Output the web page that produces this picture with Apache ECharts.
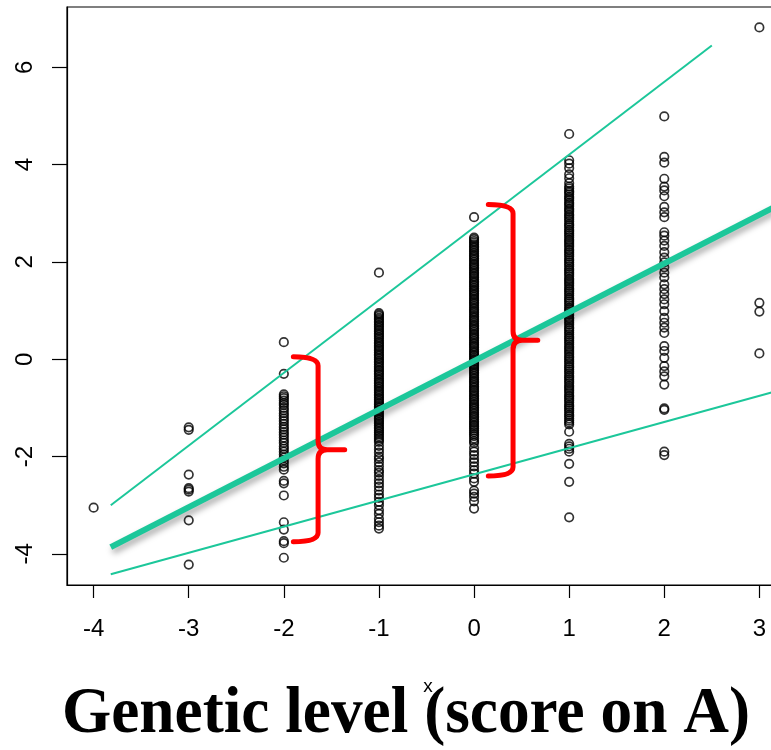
<!DOCTYPE html>
<html>
<head>
<meta charset="utf-8">
<script src="https://cdn.jsdelivr.net/npm/echarts@6/dist/echarts.min.js"></script>
<style>
  html, body { margin: 0; padding: 0; background: #fff; overflow: hidden; }
  #chart { width: 800px; height: 750px; }
</style>
</head>
<body>
<div id="chart"></div>
<script>
// tick labels
const xTicks = [-4, -3, -2, -1, 0, 1, 2, 3]
const yTicks = [-4, -2, 0, 2, 4, 6]

// phenotype values
const atNeg4 = [-3.05]
const atNeg3 = [-1.40, -1.45, -2.37, -2.65, -2.68, -2.72, -3.31, -4.22]
const atNeg2 = [0.35, -0.30, -0.72, -0.76, -0.80, -0.85, -0.90, -0.94, -1.00, -1.05, -1.11, -1.16, -1.22, -1.27,
  -1.33, -1.39, -1.44, -1.50, -1.55, -1.61, -1.67, -1.72, -1.79, -1.84, -1.90, -1.96, -2.02, -2.08, -2.14,
  -2.21, -2.27, -2.50, -2.55, -2.80, -3.35, -3.50, -3.74, -3.78, -4.08]
const atNeg1 = [1.78, 0.95, 0.92, 0.89, 0.85, 0.82, 0.78, 0.75, 0.71, 0.68, 0.64, 0.60, 0.57, 0.53, 0.50, 0.46,
  0.43, 0.39, 0.35, 0.32, 0.28, 0.25, 0.21, 0.18, 0.14, 0.10, 0.07, 0.03, 0.00, -0.04, -0.07, -0.11, -0.15,
  -0.18, -0.22, -0.25, -0.29, -0.32, -0.36, -0.40, -0.43, -0.47, -0.50, -0.54, -0.57, -0.61, -0.65, -0.68,
  -0.72, -0.75, -0.79, -0.82, -0.86, -0.90, -0.93, -0.97, -1.00, -1.04, -1.07, -1.11, -1.15, -1.18, -1.22,
  -1.25, -1.29, -1.32, -1.36, -1.40, -1.43, -1.47, -1.50, -1.54, -1.58, -1.62, -1.66, -1.70, -1.78, -1.85,
  -1.92, -2.00, -2.05, -2.12, -2.20, -2.28, -2.33, -2.40, -2.48, -2.55, -2.62, -2.70, -2.78, -2.85, -2.93,
  -3.00, -3.10, -3.18, -3.28, -3.35, -3.42, -3.48]
const atZero = [2.92, 2.50, 2.47, 2.43, 2.40, 2.36, 2.32, 2.29, 2.25, 2.22, 2.18, 2.14, 2.11, 2.07, 2.04, 2.00,
  1.96, 1.93, 1.89, 1.86, 1.82, 1.78, 1.75, 1.71, 1.68, 1.64, 1.60, 1.57, 1.53, 1.50, 1.46, 1.42, 1.39, 1.35,
  1.32, 1.28, 1.24, 1.21, 1.17, 1.14, 1.10, 1.06, 1.03, 0.99, 0.96, 0.92, 0.88, 0.85, 0.81, 0.78, 0.74, 0.70,
  0.67, 0.63, 0.60, 0.56, 0.52, 0.49, 0.45, 0.42, 0.38, 0.34, 0.31, 0.27, 0.24, 0.20, 0.16, 0.13, 0.09, 0.06,
  0.02, -0.02, -0.05, -0.09, -0.12, -0.16, -0.20, -0.23, -0.27, -0.30, -0.34, -0.38, -0.41, -0.45, -0.48,
  -0.52, -0.56, -0.59, -0.63, -0.66, -0.70, -0.74, -0.77, -0.81, -0.84, -0.88, -0.92, -0.95, -0.99, -1.02,
  -1.06, -1.10, -1.13, -1.17, -1.20, -1.24, -1.28, -1.31, -1.35, -1.38, -1.42, -1.46, -1.50, -1.54, -1.58,
  -1.63, -1.68, -1.72, -1.82, -1.90, -1.97, -2.05, -2.12, -2.20, -2.28, -2.35, -2.45, -2.52, -2.70, -2.76,
  -2.83, -2.92, -3.07]
const atPos1 = [4.63, 4.09, 4.02, 3.93, 3.80, 3.72, 3.62, 3.55, 3.51, 3.46, 3.43, 3.39, 3.34, 3.31, 3.27, 3.22,
  3.19, 3.15, 3.10, 3.07, 3.03, 2.98, 2.95, 2.91, 2.87, 2.83, 2.78, 2.75, 2.71, 2.66, 2.63, 2.59, 2.55, 2.51,
  2.46, 2.43, 2.39, 2.35, 2.31, 2.26, 2.23, 2.19, 2.15, 2.11, 2.06, 2.03, 1.99, 1.95, 1.91, 1.86, 1.83, 1.79,
  1.75, 1.71, 1.66, 1.63, 1.59, 1.55, 1.51, 1.46, 1.43, 1.39, 1.35, 1.31, 1.26, 1.23, 1.19, 1.15, 1.11, 1.06,
  1.03, 0.99, 0.95, 0.91, 0.86, 0.83, 0.79, 0.75, 0.71, 0.66, 0.63, 0.59, 0.55, 0.51, 0.46, 0.43, 0.39, 0.35,
  0.31, 0.26, 0.23, 0.19, 0.15, 0.11, 0.06, 0.03, -0.01, -0.05, -0.09, -0.14, -0.17, -0.21, -0.25, -0.29,
  -0.34, -0.37, -0.41, -0.45, -0.49, -0.54, -0.57, -0.61, -0.65, -0.69, -0.74, -0.77, -0.81, -0.85, -0.89,
  -0.94, -0.97, -1.01, -1.05, -1.09, -1.14, -1.17, -1.22, -1.26, -1.30, -1.34, -1.49, -1.74, -1.79, -1.84,
  -1.90, -2.15, -2.52, -3.25]
const atPos2 = [4.99, 4.16, 4.04, 3.71, 3.55, 3.47, 3.35, 3.13, 3.02, 2.92, 2.61, 2.54, 2.44, 2.33, 2.20, 2.09,
  1.99, 1.89, 1.78, 1.68, 1.54, 1.44, 1.34, 1.23, 1.13, 0.99, 0.85, 0.75, 0.65, 0.54, 0.27, 0.17, 0.03, -0.14,
  -0.25, -0.35, -0.52, -1.01, -1.04, -1.90, -1.97]
const atPos3 = [6.82, 1.16, 0.98, 0.12]

// fitted line and the two thin band lines, [x, y] ends
const fitLine = [[-3.82, -3.86], [3.28, 3.25]]
const upperLine = [[-3.82, -3.00], [2.50, 6.45]]
const lowerLine = [[-3.82, -4.42], [3.28, -0.60]]

// braces: [armX, spineX, tipX, top, middle, bottom]
const braces = [
  [-1.90, -1.64, -1.36, 0.05, -1.86, -3.75],
  [0.15, 0.41, 0.67, 3.18, 0.39, -2.40]
]

const titleText = 'Genetic level (score on A)'

const columns = [
  [-4, atNeg4], [-3, atNeg3], [-2, atNeg2], [-1, atNeg1],
  [0, atZero], [1, atPos1], [2, atPos2], [3, atPos3]
]
const points = []
columns.forEach(([x, ys]) => ys.forEach((y) => points.push([x, y])))

const green = '#1CC79A'
const labelFont = 'Liberation Sans'

const measure = document.createElement('canvas').getContext('2d')
measure.font = 'bold 65px "Liberation Serif"'
const titleScale = 688 / measure.measureText(titleText).width

const chart = echarts.init(document.getElementById('chart'))

function renderBrace(params, api) {
  const ax = api.value(0), sx = api.value(1), tx = api.value(2)
  const top = api.coord([sx, api.value(3)])
  const mid = api.coord([sx, api.value(4)])
  const bot = api.coord([sx, api.value(5)])
  const armX = api.coord([ax, 0])[0]
  const tipX = api.coord([tx, 0])[0]
  const s = top[0]
  const r = 9
  const d =
    `M${armX},${top[1]} Q${s},${top[1]} ${s},${top[1] + r} ` +
    `L${s},${mid[1] - r} Q${s},${mid[1]} ${s + r},${mid[1]} L${tipX},${mid[1]} ` +
    `L${s + r},${mid[1]} Q${s},${mid[1]} ${s},${mid[1] + r} ` +
    `L${s},${bot[1] - r} Q${s},${bot[1]} ${armX},${bot[1]}`
  return {
    type: 'path',
    shape: { pathData: d },
    style: { fill: 'none', stroke: '#ff0000', lineWidth: 5, lineCap: 'round', lineJoin: 'round' }
  }
}

const option = {
  animation: false,
  backgroundColor: '#fff',
  grid: {
    left: 67, top: 7, width: 719, height: 578,
    show: true, borderColor: '#000', borderWidth: 1.2, backgroundColor: 'transparent'
  },
  xAxis: {
    type: 'value', min: -4.28, max: 3.28,
    splitLine: { show: false },
    axisLine: { show: true, onZero: false, lineStyle: { color: '#000', width: 1.2 } },
    axisTick: { show: true, customValues: xTicks, length: 13, lineStyle: { color: '#000', width: 1.2 } },
    axisLabel: { customValues: xTicks, fontSize: 24, color: '#000', fontFamily: labelFont, margin: 32 }
  },
  yAxis: {
    type: 'value', min: -4.64, max: 7.24,
    splitLine: { show: false },
    axisLine: { show: true, onZero: false, lineStyle: { color: '#000', width: 1.2 } },
    axisTick: { show: true, customValues: yTicks, length: 15, lineStyle: { color: '#000', width: 1.2 } },
    axisLabel: { customValues: yTicks, fontSize: 24, color: '#000', fontFamily: labelFont, rotate: 90, margin: 30 }
  },
  series: [
    {
      type: 'scatter',
      data: points,
      symbol: 'circle',
      symbolSize: 8.5,
      itemStyle: { color: 'rgba(0,0,0,0)', borderColor: '#000', borderWidth: 1.7 },
      emphasis: { disabled: true },
      z: 1
    },
    {
      type: 'line', data: upperLine, symbol: 'none',
      lineStyle: { color: green, width: 2 }, z: 2
    },
    {
      type: 'line', data: lowerLine, symbol: 'none',
      lineStyle: { color: green, width: 2 }, z: 2
    },
    {
      type: 'line', data: fitLine, symbol: 'none',
      lineStyle: {
        color: green, width: 6, cap: 'butt',
        shadowColor: 'rgba(0,0,0,0.35)', shadowBlur: 6, shadowOffsetX: 2, shadowOffsetY: 4
      },
      z: 3
    },
    {
      type: 'custom',
      data: braces,
      encode: { x: [0, 1, 2], y: [3, 4, 5] },
      renderItem: renderBrace,
      z: 4
    }
  ],
  graphic: [
    {
      type: 'text', x: 62, y: 715, scaleX: titleScale,
      style: {
        text: titleText, font: 'bold 65px "Liberation Serif"', fill: '#000',
        textAlign: 'left', textVerticalAlign: 'middle'
      }
    },
    {
      type: 'text', x: 428, y: 687,
      style: {
        text: 'x', font: '19px "Liberation Sans"', fill: '#000',
        textAlign: 'center', textVerticalAlign: 'middle'
      }
    }
  ]
}

chart.setOption(option)
</script>
</body>
</html>
